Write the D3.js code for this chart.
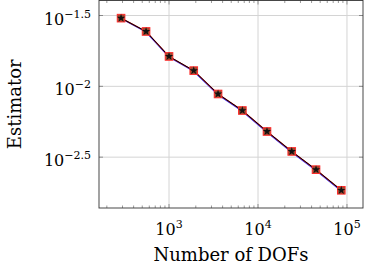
<!DOCTYPE html>
<html>
<head>
<meta charset="utf-8">
<script src="https://cdn.jsdelivr.net/npm/d3@7"></script>
<style>
  body { margin: 0; background: #fff; }
  text { font-family: "DejaVu Serif", serif; fill: #000; }
</style>
</head>
<body>
<div id="chart"></div>
<script>
var width = 369;
var height = 269;

// data
var dofs = [289, 552, 1000, 1896, 3556, 6670, 12620, 23940, 44880, 86300];
var estRed = [0.0303, 0.0244, 0.01626, 0.01291, 0.00883, 0.00675, 0.00480, 0.00347, 0.00258, 0.001845];
var estBlue = [0.0301, 0.0242, 0.01610, 0.01278, 0.00872, 0.00666, 0.00473, 0.00342, 0.00254, 0.00182];
var estBlack = [0.0303, 0.0244, 0.01626, 0.01291, 0.00883, 0.00675, 0.00480, 0.00347, 0.00258, 0.001845];
var xTicks = [1e3, 1e4, 1e5];
var xTickExp = ["3", "4", "5"];
var yTickExp = [-1.5, -2, -2.5];
var yTickLabels = ["−1.5", "−2", "−2.5"];

var pLeft = 99, pRight = 363, pTop = 0.5, pBottom = 208;

var svg = d3.select('#chart')
          .append('svg')
          .attr('width', width)
          .attr('height', height);

var x = d3.scaleLog().domain([Math.pow(10, 2.213), Math.pow(10, 5.18)]).range([pLeft, pRight]);
var y = d3.scaleLog().domain([Math.pow(10, -2.859), Math.pow(10, -1.394)]).range([pBottom, pTop]);

// grid
svg.append("g").selectAll("line").data(xTicks).enter().append("line")
   .attr("x1", d => x(d)).attr("x2", d => x(d))
   .attr("y1", pTop).attr("y2", pBottom)
   .style("stroke", "#d4d4d4").style("stroke-width", 1);
svg.append("g").selectAll("line").data(yTickExp).enter().append("line")
   .attr("x1", pLeft).attr("x2", pRight)
   .attr("y1", d => y(Math.pow(10, d))).attr("y2", d => y(Math.pow(10, d)))
   .style("stroke", "#d4d4d4").style("stroke-width", 1);

// minor ticks on x (bottom and top, inward)
var minor = [];
for (var k = 2; k <= 5; k++) {
  for (var m = 1; m <= 9; m++) {
    var v = m * Math.pow(10, k);
    if (v > x.domain()[0] && v < x.domain()[1]) minor.push(v);
  }
}
var tickG = svg.append("g");
minor.forEach(function(v) {
  var len = (xTicks.indexOf(v) >= 0) ? 4 : 2.5;
  tickG.append("line").attr("x1", x(v)).attr("x2", x(v)).attr("y1", pBottom).attr("y2", pBottom - len)
       .style("stroke", "#555").style("stroke-width", 0.6);
  tickG.append("line").attr("x1", x(v)).attr("x2", x(v)).attr("y1", pTop).attr("y2", pTop + len)
       .style("stroke", "#555").style("stroke-width", 0.6);
});
yTickExp.forEach(function(e) {
  var yy = y(Math.pow(10, e));
  tickG.append("line").attr("x1", pLeft).attr("x2", pLeft + 4).attr("y1", yy).attr("y2", yy)
       .style("stroke", "#555").style("stroke-width", 0.6);
  tickG.append("line").attr("x1", pRight).attr("x2", pRight - 4).attr("y1", yy).attr("y2", yy)
       .style("stroke", "#555").style("stroke-width", 0.6);
});

// frame
svg.append("rect").attr("x", pLeft).attr("y", pTop).attr("width", pRight - pLeft).attr("height", pBottom - pTop)
   .style("fill", "none").style("stroke", "#333").style("stroke-width", 0.9);

// lines
var line = function(vals) {
  return d3.line().x((d, i) => x(dofs[i])).y(d => y(d))(vals);
};
svg.append("path").attr("d", line(estBlue)).style("fill", "none").style("stroke", "#2020ff").style("stroke-width", 1.2);
svg.append("path").attr("d", line(estRed)).style("fill", "none").style("stroke", "#e02020").style("stroke-width", 1.2);
svg.append("path").attr("d", line(estBlack)).style("fill", "none").style("stroke", "#000").style("stroke-width", 1);

// markers
svg.append("g").selectAll("rect").data(estRed).enter().append("rect")
   .attr("x", (d, i) => x(dofs[i]) - 3.8).attr("y", d => y(d) - 3.8)
   .attr("width", 7.6).attr("height", 7.6)
   .style("fill", "#9a4a30").style("stroke", "#ff2a2a").style("stroke-width", 1);
var star = d3.symbol().type(d3.symbolStar).size(22);
svg.append("g").selectAll("path").data(estBlack).enter().append("path")
   .attr("d", star)
   .attr("transform", (d, i) => "translate(" + x(dofs[i]) + "," + y(d) + ")")
   .style("fill", "#111");

// x tick labels
xTicks.forEach(function(v, i) {
  var t = svg.append("text").attr("x", x(v)).attr("y", 235).attr("text-anchor", "middle")
             .style("font-size", "16px");
  t.append("tspan").text("10");
  t.append("tspan").attr("dy", -7).style("font-size", "11px").text(xTickExp[i]);
});

// y tick labels
yTickExp.forEach(function(e, i) {
  var t = svg.append("text").attr("x", 91).attr("y", y(Math.pow(10, e)) + 9).attr("text-anchor", "end")
             .style("font-size", "16px");
  t.append("tspan").text("10");
  t.append("tspan").attr("dy", -7).style("font-size", "11px").text(yTickLabels[i]);
});

// axis titles
svg.append("text").attr("x", (pLeft + pRight) / 2).attr("y", 261).attr("text-anchor", "middle")
   .style("font-size", "18px").text("Number of DOFs");
svg.append("text").attr("transform", "translate(21," + ((pTop + pBottom) / 2) + ") rotate(-90)")
   .attr("text-anchor", "middle").style("font-size", "18px").text("Estimator");
</script>
</body>
</html>
